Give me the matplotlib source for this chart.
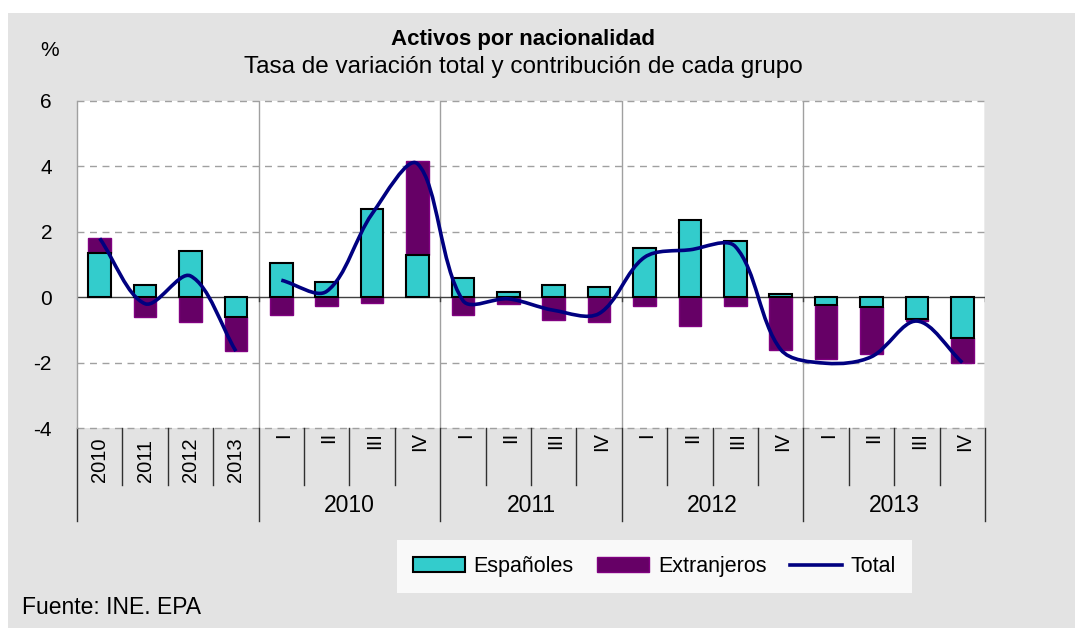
import matplotlib
matplotlib.use("Agg")
import matplotlib.pyplot as plt
import numpy as np
from matplotlib.patches import Patch, Rectangle
from matplotlib.lines import Line2D
from matplotlib.path import Path
from matplotlib.patches import PathPatch

plt.rcParams['font.family'] = ['Liberation Sans', 'DejaVu Sans']

# ---- data ----
cat_labels = ["2010", "2011", "2012", "2013",
              "I", "II", "III", "IV",
              "I", "II", "III", "IV",
              "I", "II", "III", "IV",
              "I", "II", "III", "IV"]
group_labels = ["", "2010", "2011", "2012", "2013"]
group_sizes = [4, 4, 4, 4, 4]

espanoles = [1.35, 0.37, 1.42, -0.62,
             1.05, 0.47, 2.69, 1.30,
             0.58, 0.15, 0.36, 0.31,
             1.51, 2.37, 1.73, 0.10,
             -0.25, -0.30, -0.66, -1.25]
extranjeros = [0.45, -0.60, -0.75, -1.03,
               -0.53, -0.27, -0.17, 2.85,
               -0.54, -0.22, -0.71, -0.76,
               -0.28, -0.87, -0.28, -1.60,
               -1.65, -1.45, -0.08, -0.77]
total = [1.80, -0.20, 0.65, -1.65,
         0.52, 0.18, 2.55, 4.08,
         -0.10, -0.05, -0.40, -0.50,
         1.22, 1.45, 1.55, -1.60,
         -2.02, -1.82, -0.73, -2.00]
line_segments = [(0, 4), (4, 20)]

yticks = [-4, -2, 0, 2, 4, 6]

C_ESP = '#33CCCC'
C_EXT = '#660066'
C_EXT_EDGE = '#800080'
C_TOT = '#000080'
BG = '#E3E3E3'

W, H = 1075, 628
fig = plt.figure(figsize=(W / 100, H / 100), dpi=100, facecolor='white')
fig.patches.append(Rectangle((8 / W, 0), 1 - 8 / W, 1 - 13 / H, transform=fig.transFigure,
                             facecolor=BG, edgecolor='none', zorder=-10))

ax = fig.add_axes([77 / W, 1 - 428 / H, (985 - 77) / W, (428 - 101) / H])
ax.set_facecolor('white')
n = len(cat_labels)
x = np.arange(n)
ax.set_xlim(-0.5, n - 0.5)
ax.set_ylim(-4, 6)

esp = np.array(espanoles)
ext = np.array(extranjeros)
ext_bottom = np.where(np.sign(ext) == np.sign(esp), esp, 0.0)

bw = 0.5
ax.bar(x, ext, bw, bottom=ext_bottom, color=C_EXT, edgecolor=C_EXT_EDGE, linewidth=1.0, zorder=3)
ax.bar(x, esp, bw, color=C_ESP, edgecolor='black', linewidth=1.5, zorder=4)

# smoothed total line (Excel-like smoothing computed in display space)
tot = np.array(total)
k = 1.0 / 3.0
for s, e in line_segments:
    pts_d = ax.transData.transform(np.column_stack([x[s:e].astype(float), tot[s:e]]))
    m = len(pts_d)
    verts = [pts_d[0]]
    codes = [Path.MOVETO]
    tang = []
    for i in range(m):
        p_prev = pts_d[i - 1] if i > 0 else pts_d[i]
        p_next = pts_d[i + 1] if i + 1 < m else pts_d[i]
        tang.append(p_next - p_prev)
    for i in range(m - 1):
        p1, p2 = pts_d[i], pts_d[i + 1]
        L = np.linalg.norm(p2 - p1)
        L_in = np.linalg.norm(p1 - pts_d[i - 1]) if i > 0 else L
        L_out = np.linalg.norm(pts_d[i + 2] - p2) if i + 2 < m else L
        t1 = tang[i] if i > 0 else (p2 - p1) * 2
        t2 = tang[i + 1] if i + 2 < m else (p2 - p1) * 2
        c1 = p1 + t1 * k * L / (L + L_in)
        c2 = p2 - t2 * k * L / (L + L_out)
        verts += [c1, c2, p2]
        codes += [Path.CURVE4] * 3
    verts_data = ax.transData.inverted().transform(np.array(verts))
    ax.add_patch(PathPatch(Path(verts_data, codes), facecolor='none', edgecolor=C_TOT,
                           linewidth=2.6, zorder=5, capstyle='butt', joinstyle='round'))

# grid
for yv in yticks:
    if yv == 0:
        ax.axhline(0, color='#404040', linewidth=1.0, zorder=2)
    else:
        ax.axhline(yv, color='#A0A0A0', linewidth=1.0, linestyle=(0, (5, 4)), zorder=1, clip_on=False)

# group separators in plot area
bounds = np.cumsum([0] + group_sizes) - 0.5
for b in bounds[1:]:
    ax.axvline(b, color='#A0A0A0', linewidth=1.0, zorder=1)
    ax.plot([b, b], [0, -0.12], color='#404040', linewidth=1.0, zorder=2)

for sp in ['top', 'right', 'bottom']:
    ax.spines[sp].set_visible(False)
ax.spines['left'].set_color('#A0A0A0')
ax.spines['left'].set_linewidth(1.0)

ax.set_yticks(yticks)
ax.set_yticklabels([str(v) for v in yticks], fontsize=15)
ax.tick_params(axis='y', length=0, pad=18)
ax.set_xticks([])

# multi-level category axis below plot
trans = ax.get_xaxis_transform()
ah = 428 - 101
y_cat = -(485 - 428) / ah
y_grp = -(521 - 428) / ah
grp_start = np.cumsum([0] + group_sizes)
for i in range(n + 1):
    b = i - 0.5
    if i in grp_start:
        ax.plot([b, b], [0, y_grp], transform=trans, color='#303030', linewidth=1.0, clip_on=False)
    else:
        ax.plot([b, b], [0, y_cat], transform=trans, color='#303030', linewidth=1.0, clip_on=False)

for i, lab in enumerate(cat_labels):
    if i < 4:
        ax.text(i, -(460 - 428) / ah, lab, transform=trans, rotation=90, ha='center', va='center',
                fontsize=14.5)
    else:
        ax.text(i + 0.05, -(432 - 428) / ah, lab, transform=trans, rotation=90, ha='center', va='top',
                fontsize=14.5)

for g, lab in enumerate(group_labels):
    if lab:
        cx = (grp_start[g] + grp_start[g + 1] - 1) / 2
        ax.text(cx, -(505 - 428) / ah, lab, transform=trans, ha='center', va='center', fontsize=16.5)

# titles and texts
fig.text(523 / W, 1 - 40 / H, "Activos por nacionalidad", ha='center', va='center',
         fontsize=16, fontweight='bold')
fig.text(523 / W, 1 - 67 / H, "Tasa de variación total y contribución de cada grupo",
         ha='center', va='center', fontsize=17.5)
fig.text(50 / W, 1 - 51 / H, "%", ha='center', va='center', fontsize=15)
fig.text(22 / W, 1 - 608 / H, "Fuente: INE. EPA", ha='left', va='center', fontsize=16.5)

# legend
handles = [Patch(facecolor=C_ESP, edgecolor='black', linewidth=1.5),
           Patch(facecolor=C_EXT, edgecolor=C_EXT_EDGE, linewidth=1.0),
           Line2D([0], [0], color=C_TOT, linewidth=2.6)]
leg = fig.legend(handles, ["Españoles", "Extranjeros", "Total"], ncol=3,
                 loc='center', bbox_to_anchor=(654.5 / W, 1 - 566.5 / H),
                 fontsize=15.5, frameon=True, fancybox=False, shadow=False,
                 handlelength=2.4, handleheight=0.65, handletextpad=0.4,
                 columnspacing=1.1, borderpad=0.75, borderaxespad=0)
leg.get_frame().set_facecolor('white')
leg.get_frame().set_edgecolor('none')
leg.get_frame().set_linewidth(0)

fig.savefig('out.png', dpi=100, facecolor=fig.get_facecolor())
